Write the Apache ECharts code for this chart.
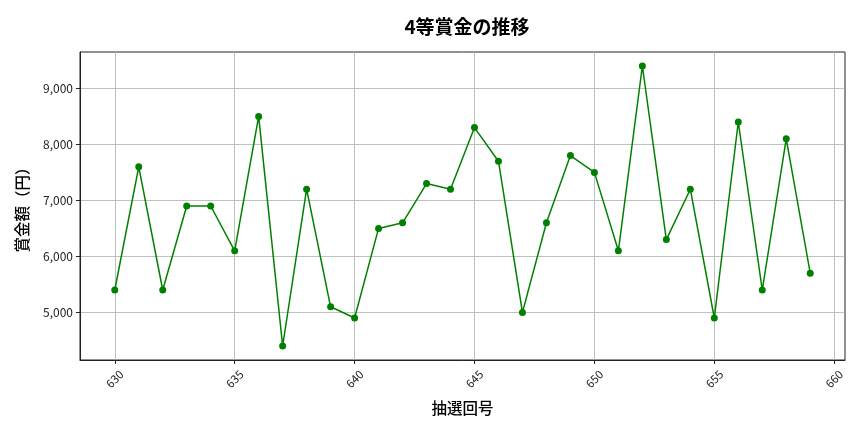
<!DOCTYPE html>
<html><head><meta charset="utf-8">
<script src="https://cdn.jsdelivr.net/npm/echarts@6/dist/echarts.min.js"></script>
<style>html,body{margin:0;padding:0;background:#fff}#c{width:864px;height:432px}</style>
</head><body><div id="c"></div>
<script>
const draws = [630,631,632,633,634,635,636,637,638,639,640,641,642,643,644,645,646,647,648,649,650,651,652,653,654,655,656,657,658,659];
const prizes = [5400,7600,5400,6900,6900,6100,8500,4400,7200,5100,4900,6500,6600,7300,7200,8300,7700,5000,6600,7800,7500,6100,9400,6300,7200,4900,8400,5400,8100,5700];
const xTicks = [630,635,640,645,650,655,660];
const yTicks = [5000,6000,7000,8000,9000];

const font = '"Noto Sans CJK JP", "Noto Sans", sans-serif';
const chart = echarts.init(document.getElementById('c'), null, {renderer:'canvas'});
chart.setOption({
  animation:false,
  backgroundColor:'#fff',
  title:{text:'4等賞金の推移', left:462, top:12, textAlign:'center',
    textStyle:{fontFamily:font, fontSize:19, fontWeight:'bold', color:'#000'}},
  grid:{left:80, right:19, top:52, bottom:72, show:true, borderColor:'#222', borderWidth:1, containLabel:false},
  xAxis:{type:'value', min:628.55, max:660.45,
    name:'抽選回号', nameLocation:'middle', nameGap:40,
    nameTextStyle:{fontFamily:font, fontSize:15.5, fontWeight:500, color:'#000'},
    axisLine:{show:true, lineStyle:{color:'#222'}},
    axisTick:{show:true, length:4, customValues:xTicks, lineStyle:{color:'#222'}},
    axisLabel:{customValues:xTicks, rotate:45, align:'center', verticalAlign:'middle', margin:19,
      fontFamily:font, fontSize:11.5, color:'#222'},
    splitLine:{show:true, lineStyle:{color:'#b0b0b0', width:0.8}}},
  yAxis:{type:'value', min:4150, max:9650,
    name:'賞金額（円）', nameLocation:'middle', nameGap:50, nameRotate:90,
    nameTextStyle:{fontFamily:font, fontSize:15.5, fontWeight:500, color:'#000'},
    axisLine:{show:true, lineStyle:{color:'#222'}},
    axisTick:{show:true, length:4, customValues:yTicks, lineStyle:{color:'#222'}},
    axisLabel:{customValues:yTicks, fontFamily:font, fontSize:12, color:'#222', margin:7,
      formatter:v=>v.toLocaleString('en-US')},
    splitLine:{show:true, lineStyle:{color:'#b0b0b0', width:0.8}}},
  series:[{type:'line', data:draws.map((d,i)=>[d,prizes[i]]),
    lineStyle:{color:'#008000', width:1.5},
    itemStyle:{color:'#008000'},
    symbol:'circle', symbolSize:7, showSymbol:true}]
});
</script></body></html>
